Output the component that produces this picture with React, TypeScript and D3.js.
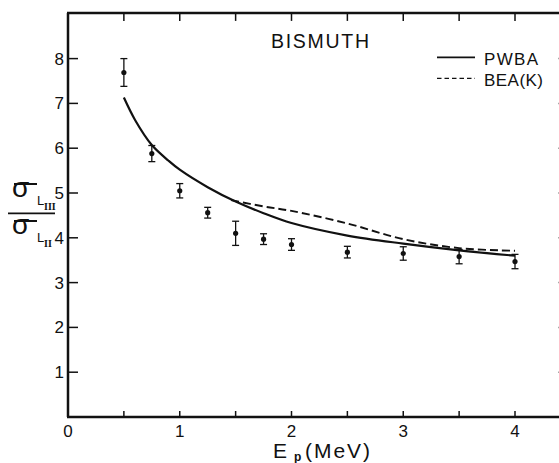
import React from "react";
import * as d3 from "d3";

// Experimental data: E_p (MeV), ratio, error
const expE = [0.5, 0.75, 1.0, 1.25, 1.5, 1.75, 2.0, 2.5, 3.0, 3.5, 4.0];
const expRatio = [7.69, 5.88, 5.05, 4.56, 4.10, 3.97, 3.85, 3.68, 3.65, 3.58, 3.47];
const expErr = [0.31, 0.18, 0.16, 0.12, 0.27, 0.12, 0.13, 0.13, 0.15, 0.16, 0.16];

// PWBA theory curve
const pwbaE = [0.5, 0.6, 0.75, 0.9, 1.0, 1.25, 1.5, 1.75, 2.0, 2.5, 3.0, 3.5, 4.0];
const pwbaRatio = [7.13, 6.63, 6.07, 5.72, 5.52, 5.13, 4.81, 4.55, 4.33, 4.05, 3.87, 3.72, 3.6];

// BEA(K) theory curve
const beaE = [1.46, 1.75, 2.0, 2.5, 3.0, 3.5, 4.0];
const beaRatio = [4.84, 4.70, 4.60, 4.32, 3.97, 3.77, 3.71];

const xTicks = [0, 1, 2, 3, 4];
const xMinorTicks = [0.5, 1, 1.5, 2, 2.5, 3, 3.5, 4];
const yTicks = [1, 2, 3, 4, 5, 6, 7, 8];

const W = 559;
const H = 463;
const FONT = "'Liberation Sans', Arial, Helvetica, sans-serif";

export default function App() {
  const x = d3.scaleLinear().domain([0, 4]).range([68, 515]);
  const y = d3.scaleLinear().domain([0, 8]).range([417, 58.6]);
  const yTop = y(9.02);
  const xRight = x(4.48);

  const line = d3
    .line<[number, number]>()
    .x((d) => x(d[0]))
    .y((d) => y(d[1]))
    .curve(d3.curveCatmullRom.alpha(0.5));

  const pwbaPath = line(pwbaE.map((e, i) => [e, pwbaRatio[i]] as [number, number])) || "";
  const beaPath = line(beaE.map((e, i) => [e, beaRatio[i]] as [number, number])) || "";

  return (
    <svg
      width={W}
      height={H}
      style={{ position: "absolute", left: 0, top: 0, background: "#fff" }}
      fontFamily={FONT}
    >
      <rect x={0} y={0} width={W} height={H} fill="#fff" />
      {/* frame */}
      <g stroke="#111" strokeWidth={2.5} fill="none">
        <line x1={x(0)} y1={yTop} x2={x(0)} y2={y(0)} />
        <line x1={x(0) - 1} y1={yTop} x2={W + 5} y2={yTop} />
        <line x1={x(0) - 1} y1={y(0)} x2={W + 5} y2={y(0)} />
        <line x1={xRight} y1={yTop} x2={xRight} y2={y(0)} />
      </g>
      {/* ticks */}
      <g stroke="#111" strokeWidth={1.5}>
        {yTicks.map((t) => (
          <line key={"yl" + t} x1={x(0)} x2={x(0) + 10} y1={y(t)} y2={y(t)} />
        ))}
        {yTicks.map((t) => (
          <line key={"yr" + t} x1={xRight} x2={xRight - 10} y1={y(t)} y2={y(t)} />
        ))}
        {xMinorTicks.map((t) => (
          <line key={"xb" + t} x1={x(t)} x2={x(t)} y1={y(0)} y2={y(0) - 6} />
        ))}
        {xMinorTicks.map((t) => (
          <line key={"xt" + t} x1={x(t)} x2={x(t)} y1={yTop} y2={yTop + 8} />
        ))}
      </g>
      {/* tick labels */}
      <g fontSize={17} fill="#111">
        {yTicks.map((t) => (
          <text key={"ylab" + t} x={64} y={y(t) + 6} textAnchor="end">
            {t}
          </text>
        ))}
        {xTicks.map((t) => (
          <text key={"xlab" + t} x={x(t)} y={437} textAnchor="middle">
            {t}
          </text>
        ))}
      </g>
      {/* x axis title */}
      <g fill="#111">
        <text x={273} y={458} fontSize={21}>E</text>
        <text x={294} y={461} fontSize={12} fontWeight="bold">p</text>
        <text x={305} y={458} fontSize={21} textLength={65} lengthAdjust="spacing">(MeV)</text>
      </g>
      {/* y axis title */}
      <g fill="#111">
        <text x={12} y={197} fontSize={28}>σ</text>
        <line x1={14} x2={37} y1={184} y2={184} stroke="#111" strokeWidth={2} />
        <text x={37} y={205} fontSize={13}>L</text>
        <text x={44} y={209.5} fontSize={10} fontWeight="bold" fontFamily="'Liberation Serif', serif">III</text>
        <line x1={8} x2={55} y1={213.3} y2={213.3} stroke="#111" strokeWidth={1.8} />
        <text x={12} y={234} fontSize={28}>σ</text>
        <line x1={14} x2={37} y1={221} y2={221} stroke="#111" strokeWidth={2} />
        <text x={37} y={241.7} fontSize={13}>L</text>
        <text x={44} y={246.5} fontSize={10} fontWeight="bold" fontFamily="'Liberation Serif', serif">II</text>
      </g>
      {/* title */}
      <text x={271} y={47.7} fontSize={19.5} fill="#111" textLength={98} lengthAdjust="spacing">
        BISMUTH
      </text>
      {/* legend */}
      <line x1={437} x2={475} y1={57.3} y2={57.3} stroke="#111" strokeWidth={1.8} />
      <text x={484} y={65} fontSize={17} fill="#111" textLength={54} lengthAdjust="spacing">PWBA</text>
      <line x1={437} x2={475} y1={78.3} y2={78.3} stroke="#111" strokeWidth={1.3} strokeDasharray="4.5,3" />
      <text x={484} y={86} fontSize={17} fill="#111" textLength={59} lengthAdjust="spacing">BEA(K)</text>
      {/* curves */}
      <path d={pwbaPath} fill="none" stroke="#111" strokeWidth={2.2} />
      <path d={beaPath} fill="none" stroke="#111" strokeWidth={1.9} strokeDasharray="8,4" />
      {/* experimental points */}
      <g stroke="#111" strokeWidth={1.3}>
        {expE.map((e, i) => {
          const cx = x(e);
          const y1 = y(expRatio[i] + expErr[i]);
          const y2 = y(expRatio[i] - expErr[i]);
          return (
            <g key={"p" + i}>
              <line x1={cx} x2={cx} y1={y1} y2={y2} />
              <line x1={cx - 3.5} x2={cx + 3.5} y1={y1} y2={y1} />
              <line x1={cx - 3.5} x2={cx + 3.5} y1={y2} y2={y2} />
              <circle cx={cx} cy={y(expRatio[i])} r={2.6} fill="#111" stroke="none" />
            </g>
          );
        })}
      </g>
    </svg>
  );
}
